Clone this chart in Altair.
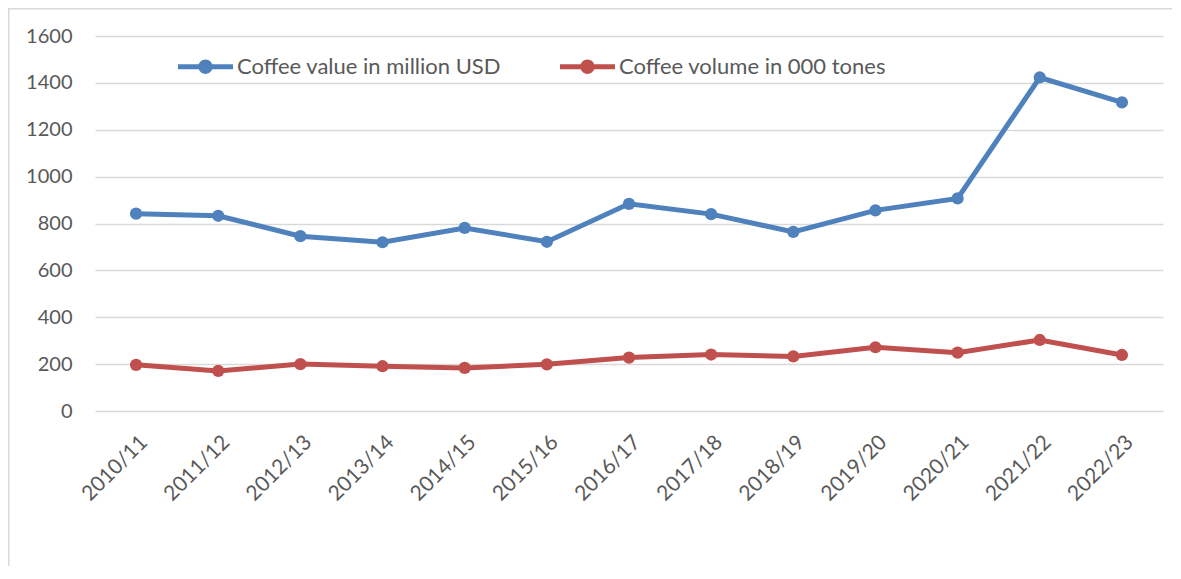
import altair as alt
import pandas as pd

seasons = ["2010/11", "2011/12", "2012/13", "2013/14", "2014/15", "2015/16", "2016/17",
           "2017/18", "2018/19", "2019/20", "2020/21", "2021/22", "2022/23"]
value_musd = [842, 833, 746, 720, 781, 722, 884, 840, 764, 856, 907, 1423, 1317]
volume_kt = [197, 171, 200, 191, 184, 199, 228, 241, 233, 272, 249, 303, 239]
series_names = ["Coffee value in million USD", "Coffee volume in 000 tones"]
series_colors = ["#4F81BD", "#C0504D"]
y_ticks = [0, 200, 400, 600, 800, 1000, 1200, 1400, 1600]

rows = []
for s, v in zip(seasons, value_musd):
    rows.append({"season": s, "series": series_names[0], "val": v})
for s, v in zip(seasons, volume_kt):
    rows.append({"season": s, "series": series_names[1], "val": v})
df = pd.DataFrame(rows)

FONT = "Lato"
TXT = "#595959"
W, H = 1068, 375
PL, PT, PR, PB = 87, 28, 9, 155

sym = "M-1,-0.09H1V0.09H-1Z M-0.26,0A0.26,0.26,0,1,1,0.26,0A0.26,0.26,0,1,1,-0.26,0Z"

x = alt.X("season:O", sort=seasons, title=None,
          axis=alt.Axis(labelAngle=-45, labelFont=FONT, labelFontSize=21, labelColor=TXT,
                        domain=False, ticks=False, tickSize=0, labelPadding=20, grid=False))
y = alt.Y("val:Q", title=None, scale=alt.Scale(domain=[0, 1600], nice=False),
          axis=alt.Axis(values=y_ticks, format="d", labelFont=FONT, labelFontSize=20,
                        labelColor=TXT, domain=False, ticks=False, tickSize=0, labelPadding=23,
                        gridColor="#D9D9D9", gridWidth=1.5))
color = alt.Color("series:N", scale=alt.Scale(domain=series_names, range=series_colors),
                  title=None,
                  legend=alt.Legend(orient="none", legendX=83, legendY=3, direction="horizontal",
                                    symbolType=sym, symbolSize=3025, symbolStrokeWidth=0,
                                    labelFont=FONT, labelFontSize=22, labelColor=TXT,
                                    labelLimit=500, labelOffset=4, columnPadding=58, padding=0))

base = alt.Chart(df).encode(x=x, y=y, color=color)
lines = base.mark_line(strokeWidth=5)
points = base.mark_point(filled=True, size=150, opacity=1, strokeWidth=0)

frame_df = pd.DataFrame({"a": [0]})
left_border = alt.Chart(frame_df).mark_rule(color="#D9D9D9", strokeWidth=1.5).encode(
    x=alt.value(-PL + 0.75), y=alt.value(-PT), y2=alt.value(H + PB))
top_border = alt.Chart(frame_df).mark_rule(color="#D9D9D9", strokeWidth=1.5).encode(
    x=alt.value(-PL), x2=alt.value(W + PR), y=alt.value(-PT + 0.75))

chart = alt.layer(lines, points, left_border, top_border).properties(
    width=W, height=H,
    background="white",
    autosize=alt.AutoSizeParams(type="none"),
    padding={"left": PL, "top": PT, "right": PR, "bottom": PB},
).configure_view(stroke=None, strokeWidth=0)

chart.save("out.html", embed_options={"renderer": "svg", "actions": False})
